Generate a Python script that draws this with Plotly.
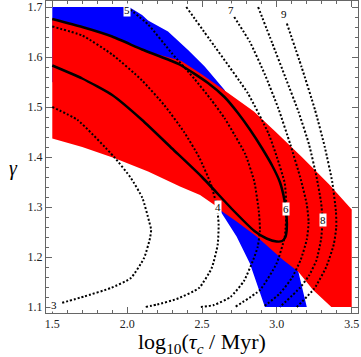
import plotly.graph_objects as go

# ---- data ----
blue_x = [1.5, 2.013, 2.1, 2.14, 2.273, 2.407, 2.518, 2.651, 3.08, 3.2, 2.92, 2.865, 2.82, 2.731, 2.618, 2.55, 1.5]
blue_y = [1.7, 1.7, 1.684, 1.673, 1.651, 1.614, 1.581, 1.534, 1.25, 1.1, 1.1, 1.147, 1.187, 1.241, 1.294, 1.36, 1.55]

red_x = [1.5, 1.7, 1.9, 2.1, 2.15, 2.362, 2.5, 2.651, 2.847, 3.0, 3.167, 3.35, 3.5,
         3.5, 3.364, 3.242, 3.142, 3.042, 2.865, 2.731, 2.62, 2.598, 2.487, 2.353, 2.14, 1.913, 1.7, 1.5]
red_y = [1.678, 1.662, 1.643, 1.617, 1.61, 1.592, 1.565, 1.533, 1.491, 1.448, 1.40, 1.345, 1.295,
         1.1, 1.1, 1.134, 1.171, 1.194, 1.241, 1.271, 1.294, 1.301, 1.324, 1.341, 1.371, 1.398, 1.42, 1.437]

black_x = [1.5, 1.7, 1.9, 2.1, 2.35, 2.54, 2.65, 2.74, 2.82, 2.9, 2.97, 3.02, 3.05, 3.065, 3.066, 3.057,
           3.035, 2.998, 2.931, 2.85, 2.7, 2.5, 2.3, 2.1, 1.9, 1.7, 1.5]
black_y = [1.676, 1.66, 1.641, 1.615, 1.585, 1.548, 1.52, 1.488, 1.455, 1.418, 1.382, 1.35, 1.315, 1.28, 1.255, 1.24,
           1.232, 1.231, 1.237, 1.252, 1.296, 1.36, 1.417, 1.474, 1.524, 1.557, 1.583]

c3_x = [1.5, 1.669, 1.913, 2.025, 2.102, 2.147, 2.16, 2.153, 2.113, 2.025, 1.891, 1.713, 1.56]
c3_y = [1.50, 1.474, 1.40, 1.358, 1.318, 1.271, 1.255, 1.238, 1.198, 1.158, 1.138, 1.121, 1.108]
c4_x = [1.5, 1.7, 1.9, 2.1, 2.25, 2.38, 2.48, 2.56, 2.60, 2.611, 2.605, 2.565, 2.48, 2.33, 2.2, 2.12]
c4_y = [1.661, 1.643, 1.605, 1.553, 1.503, 1.45, 1.40, 1.345, 1.30, 1.265, 1.225, 1.178, 1.138, 1.116, 1.105, 1.1]
c5_x = [2.0, 2.14, 2.3, 2.45, 2.56, 2.65, 2.72, 2.79, 2.85, 2.88, 2.887, 2.872, 2.842, 2.78, 2.69, 2.58, 2.487]
c5_y = [1.70, 1.665, 1.607, 1.556, 1.515, 1.478, 1.443, 1.405, 1.35, 1.29, 1.254, 1.22, 1.194, 1.152, 1.12, 1.104, 1.1]
c6_x = [2.395, 2.585, 2.807, 2.944, 3.0, 3.053, 3.064, 3.053, 2.998, 2.887, 2.72]
c6_y = [1.70, 1.621, 1.527, 1.447, 1.40, 1.347, 1.297, 1.241, 1.187, 1.134, 1.1]
c7_x = [2.715, 2.82, 2.92, 3.01, 3.09, 3.16, 3.2, 3.212, 3.2, 3.16, 3.1, 3.02, 2.909]
c7_y = [1.68, 1.63, 1.565, 1.497, 1.425, 1.355, 1.305, 1.27, 1.235, 1.195, 1.158, 1.127, 1.1]
c8_x = [2.875, 2.97, 3.06, 3.145, 3.215, 3.265, 3.295, 3.305, 3.295, 3.265, 3.215, 3.153, 3.02]
c8_y = [1.70, 1.627, 1.557, 1.49, 1.425, 1.36, 1.31, 1.274, 1.235, 1.194, 1.163, 1.138, 1.1]
c9_x = [3.067, 3.165, 3.255, 3.32, 3.37, 3.395, 3.397, 3.38, 3.33, 3.25, 3.133]
c9_y = [1.667, 1.58, 1.494, 1.42, 1.35, 1.29, 1.26, 1.225, 1.18, 1.137, 1.1]

label_text = ["3", "4", "5", "6", "7", "8", "9"]
label_x = [1.513, 2.607, 1.998, 3.064, 2.691, 3.311, 3.045]
label_y = [1.105, 1.300, 1.694, 1.297, 1.694, 1.274, 1.687]

x_range = [1.458, 3.542]
y_range = [1.088, 1.712]

SERIF = "Liberation Serif"

fig = go.Figure()
fig.add_trace(go.Scatter(x=blue_x, y=blue_y, fill="toself", fillcolor="#0000FF",
                         line=dict(width=0), mode="lines", hoverinfo="skip"))
fig.add_trace(go.Scatter(x=red_x, y=red_y, fill="toself", fillcolor="#FF0000",
                         line=dict(width=0), mode="lines", hoverinfo="skip"))
for cx, cy in [(c3_x, c3_y), (c4_x, c4_y), (c5_x, c5_y), (c6_x, c6_y),
               (c7_x, c7_y), (c8_x, c8_y), (c9_x, c9_y)]:
    fig.add_trace(go.Scatter(x=cx, y=cy, mode="lines",
                             line=dict(color="black", width=2, dash="2px,2px", shape="spline", smoothing=0.5),
                             hoverinfo="skip"))
fig.add_trace(go.Scatter(x=black_x, y=black_y, mode="lines",
                         line=dict(color="black", width=2.5, shape="spline", smoothing=0.5),
                         hoverinfo="skip"))

for t, lx, ly in zip(label_text, label_x, label_y):
    fig.add_annotation(x=lx, y=ly, text=t, showarrow=False, bgcolor="white",
                       borderpad=0, font=dict(family=SERIF, size=11, color="black"))

fig.add_annotation(xref="paper", yref="paper", x=0.5, y=-0.096,
                   text="log<sub>10</sub>(<i>τ<sub>c</sub></i> / Myr)", showarrow=False,
                   font=dict(family=SERIF, size=22, color="black"), yanchor="middle")
fig.add_annotation(xref="paper", yref="y", x=-0.125, y=1.378, text="<i>γ</i>", showarrow=False,
                   font=dict(family=SERIF, size=20, color="black"), yanchor="middle")

axis_common = dict(showline=True, linecolor="#666", linewidth=1, mirror="allticks", automargin=False,
                   ticks="inside", tickcolor="#666", ticklen=6, showgrid=False, zeroline=False,
                   tickfont=dict(family=SERIF, size=12, color="#222"), tickformat=".1f")
fig.update_xaxes(range=x_range, dtick=0.5, tick0=1.5,
                 minor=dict(dtick=0.1, tick0=1.5, ticks="inside", ticklen=3, tickcolor="#666", showgrid=False),
                 **axis_common)
fig.update_yaxes(range=y_range, dtick=0.1, tick0=1.1,
                 minor=dict(dtick=0.02, tick0=1.1, ticks="inside", ticklen=3, tickcolor="#666", showgrid=False),
                 **axis_common)

fig.update_layout(width=361, height=357, margin=dict(l=46, r=3, t=1, b=44),
                  showlegend=False, plot_bgcolor="white", paper_bgcolor="white")

fig.write_html("out.html", config={"displayModeBar": False},
               post_script="document.body.style.margin='0';document.body.style.overflow='hidden';")
